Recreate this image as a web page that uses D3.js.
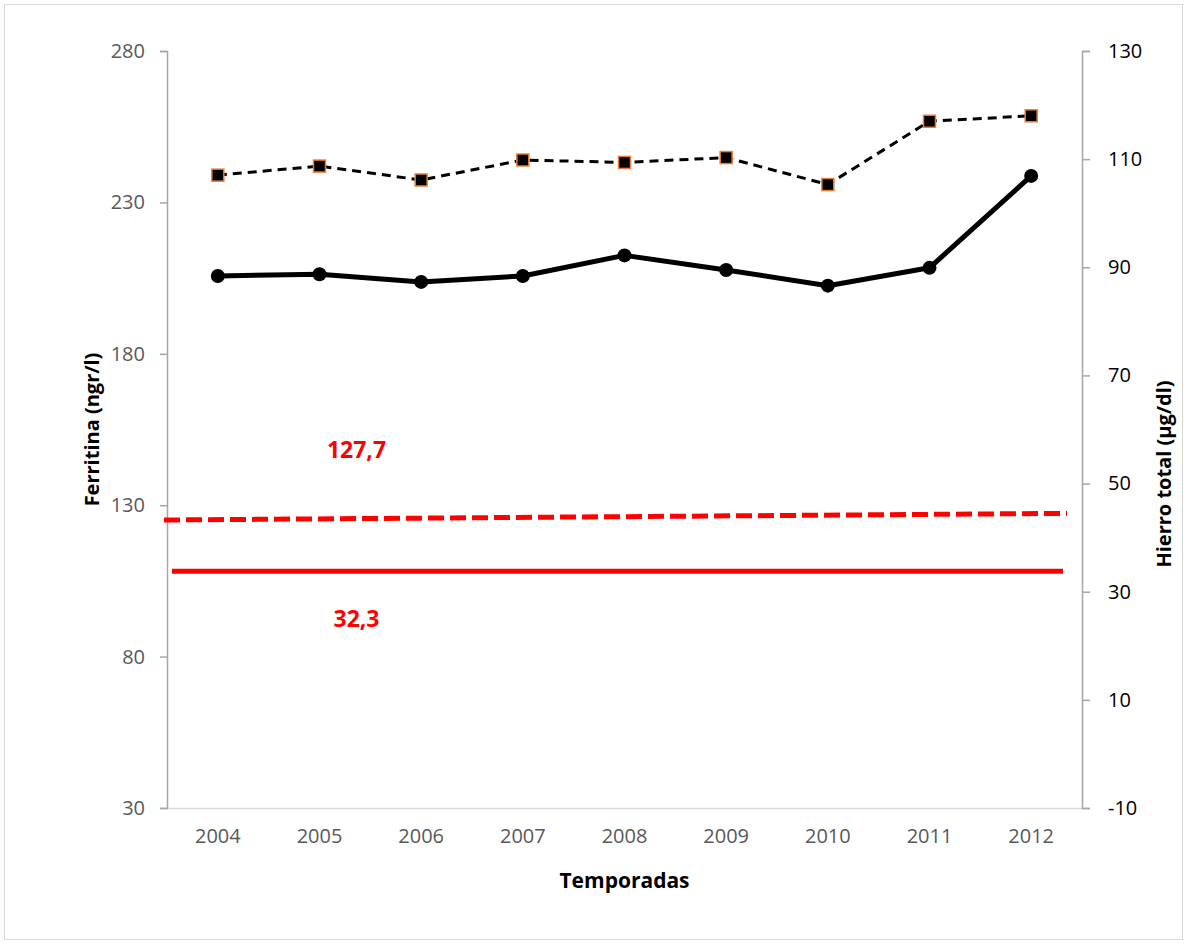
<!DOCTYPE html>
<html>
<head>
<meta charset="utf-8">
<script src="https://cdn.jsdelivr.net/npm/d3@7"></script>
<style>
  body { margin: 0; background: #fff; }
  svg text { font-family: "Open Sans", Lato, sans-serif; }
</style>
</head>
<body>
<div id="chart"></div>
<script>
const temporadas = ['2004', '2005', '2006', '2007', '2008', '2009', '2010', '2011', '2012'];
// dashed line with squares, left axis
const ferritina = [239.0, 242.0, 237.4, 244.0, 243.2, 244.8, 235.9, 256.8, 258.6];
// solid line with circles, right axis
const hierro = [88.4, 88.7, 87.3, 88.4, 92.2, 89.5, 86.6, 89.9, 106.9];
// reference lines, start and end of plot area
const refFerritina = [125.1, 127.3];
const refHierro = [33.8, 33.8];
const refLabels = [{ text: '127,7', value: 148.3 }, { text: '32,3', value: 92.5 }];
const leftTicks = [30, 80, 130, 180, 230, 280];
const rightTicks = [-10, 10, 30, 50, 70, 90, 110, 130];

const width = 1188, height = 944;
const margin = { top: 51, right: 106, bottom: 136, left: 167 };
const plotRight = width - margin.right;
const plotBottom = height - margin.bottom;

const svg = d3.select('#chart').append('svg')
  .attr('width', width)
  .attr('height', height);

svg.append('rect')
  .attr('x', 4.5).attr('y', 4.5)
  .attr('width', width - 10).attr('height', height - 9)
  .attr('fill', '#fff')
  .attr('stroke', '#d9d9d9');

const x = d3.scaleBand()
  .domain(temporadas)
  .range([margin.left, plotRight]);

const yLeft = d3.scaleLinear().domain([30, 280]).range([plotBottom, margin.top]);
const yRight = d3.scaleLinear().domain([-10, 130]).range([plotBottom, margin.top]);

// reference lines span the plot width
const xRefDash = d3.scaleLinear().domain([0, 1]).range([margin.left - 3, plotRight - 15]);
const xRefSolid = d3.scaleLinear().domain([0, 1]).range([margin.left + 5, plotRight - 19]);

// axes
svg.append('g')
  .attr('transform', `translate(0,${plotBottom})`)
  .call(d3.axisBottom(x).tickSize(0).tickPadding(21))
  .call(g => g.select('.domain').attr('stroke', '#d9d9d9').attr('stroke-width', 1.5))
  .call(g => g.selectAll('text').attr('fill', '#595959').style('font-size', '20px'));

svg.append('g')
  .attr('transform', `translate(${margin.left},0)`)
  .call(d3.axisLeft(yLeft).tickValues(leftTicks).tickSizeOuter(0).tickSize(7).tickPadding(15))
  .call(g => g.selectAll('.domain, line').attr('stroke', '#a6a6a6').attr('stroke-width', 1.5))
  .call(g => g.selectAll('text').attr('fill', '#595959').style('font-size', '20px'));

svg.append('g')
  .attr('transform', `translate(${plotRight},0)`)
  .call(d3.axisRight(yRight).tickValues(rightTicks).tickSizeOuter(0).tickSize(8).tickPadding(18)
    .tickFormat(d => d < 0 ? '-' + Math.abs(d) : d))
  .call(g => g.selectAll('.domain, line').attr('stroke', '#a6a6a6').attr('stroke-width', 1.5))
  .call(g => g.selectAll('text').attr('fill', '#000').style('font-size', '20px'));

// axis titles
svg.append('text')
  .attr('x', (margin.left + plotRight) / 2)
  .attr('y', 888)
  .attr('text-anchor', 'middle')
  .style('font-size', '21px').style('font-weight', 'bold')
  .text('Temporadas');

svg.append('text')
  .attr('transform', `translate(99,${(margin.top + plotBottom) / 2}) rotate(-90)`)
  .attr('text-anchor', 'middle')
  .style('font-size', '20px').style('font-weight', 'bold')
  .text('Ferritina (ngr/l)');

svg.append('text')
  .attr('transform', `translate(1171,474) rotate(-90)`)
  .attr('text-anchor', 'middle')
  .style('font-size', '20px').style('font-weight', 'bold')
  .text('Hierro total (µg/dl)');

// reference lines
const refLine = (xs, ys) => d3.line().x((d, i) => xs(i)).y(d => ys(d));

svg.append('path')
  .datum(refFerritina)
  .attr('d', refLine(xRefDash, yLeft))
  .attr('fill', 'none')
  .attr('stroke', '#ff0000')
  .attr('stroke-width', 5)
  .attr('stroke-dasharray', '16,6');

svg.append('path')
  .datum(refHierro)
  .attr('d', refLine(xRefSolid, yRight))
  .attr('fill', 'none')
  .attr('stroke', '#ff0000')
  .attr('stroke-width', 5);

svg.append('g').selectAll('text').data(refLabels).enter().append('text')
  .attr('x', x('2005') + x.bandwidth() / 2 + 37)
  .attr('y', d => yLeft(d.value))
  .attr('dy', '0.35em')
  .attr('text-anchor', 'middle')
  .attr('fill', '#ff0000')
  .style('font-size', '23px').style('font-weight', 'bold')
  .text(d => d.text);

const cx = d => x(d) + x.bandwidth() / 2;

// hierro: solid line with circles
svg.append('path')
  .datum(hierro)
  .attr('d', d3.line().x((d, i) => cx(temporadas[i])).y(d => yRight(d)))
  .attr('fill', 'none')
  .attr('stroke', '#000')
  .attr('stroke-width', 5)
  .attr('stroke-linejoin', 'round');

svg.append('g').selectAll('circle').data(hierro).enter().append('circle')
  .attr('cx', (d, i) => cx(temporadas[i]))
  .attr('cy', d => yRight(d))
  .attr('r', 7)
  .attr('fill', '#000');

// ferritina: dashed line with squares
svg.append('path')
  .datum(ferritina)
  .attr('d', d3.line().x((d, i) => cx(temporadas[i])).y(d => yLeft(d)))
  .attr('fill', 'none')
  .attr('stroke', '#000')
  .attr('stroke-width', 3)
  .attr('stroke-dasharray', '9,6');

const sq = 12;
svg.append('g').selectAll('rect').data(ferritina).enter().append('rect')
  .attr('x', (d, i) => cx(temporadas[i]) - sq / 2)
  .attr('y', d => yLeft(d) - sq / 2)
  .attr('width', sq)
  .attr('height', sq)
  .attr('fill', '#000')
  .attr('stroke', '#ed7d31')
  .attr('stroke-width', 1.5);
</script>
</body>
</html>
